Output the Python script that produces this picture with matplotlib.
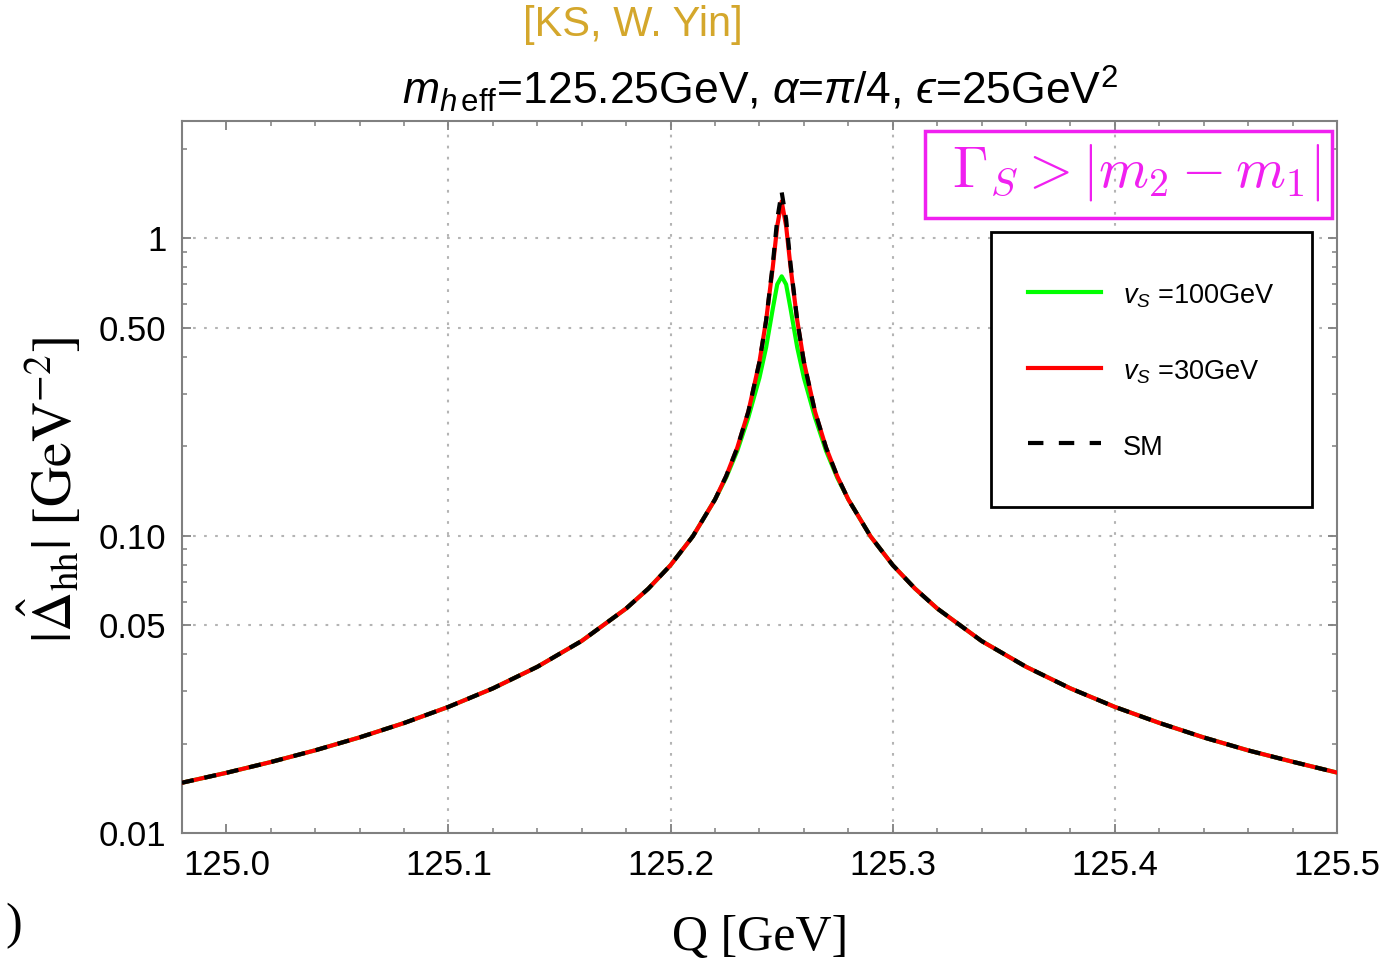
import numpy as np
import matplotlib
matplotlib.use("Agg")
from matplotlib import pyplot as plt
from matplotlib.patches import Rectangle

plt.rcParams['font.family'] = ['Liberation Sans', 'DejaVu Sans']
plt.rcParams['mathtext.fontset'] = 'custom'
plt.rcParams['mathtext.rm'] = 'Liberation Sans'
plt.rcParams['mathtext.it'] = 'Liberation Sans:italic'
plt.rcParams['mathtext.bf'] = 'Liberation Sans:bold'
plt.rcParams['mathtext.fallback'] = 'stixsans'

# Q [GeV] sample points
Q = [124.98, 125.00, 125.02, 125.04, 125.06, 125.08, 125.10, 125.12, 125.14,
     125.16, 125.18, 125.19, 125.20, 125.21, 125.22, 125.225, 125.23, 125.235,
     125.24, 125.243, 125.246, 125.248, 125.25, 125.252, 125.254, 125.257,
     125.26, 125.265, 125.27, 125.275, 125.28, 125.29, 125.30, 125.31, 125.32,
     125.34, 125.36, 125.38, 125.40, 125.42, 125.44, 125.46, 125.48, 125.50]

# |Delta_hh| [GeV^-2]
sm = [0.01479, 0.01597, 0.01736, 0.01901, 0.02101, 0.02348, 0.02661, 0.03070,
      0.03628, 0.04434, 0.05698, 0.06646, 0.07971, 0.0996, 0.1325, 0.1587,
      0.1977, 0.2616, 0.3845, 0.530, 0.818, 1.16, 1.43, 1.16, 0.818, 0.530,
      0.3845, 0.2616, 0.1977, 0.1587, 0.1325, 0.0996, 0.0797, 0.0665, 0.0570,
      0.0443, 0.0363, 0.0307, 0.0266, 0.0235, 0.0210, 0.0190, 0.0174, 0.0160]
vs30 = [0.01479, 0.01597, 0.01736, 0.01901, 0.02101, 0.02348, 0.02661, 0.03070,
        0.03628, 0.04434, 0.05698, 0.06646, 0.07971, 0.0996, 0.1325, 0.1587,
        0.1977, 0.2616, 0.3845, 0.530, 0.80, 1.10, 1.33, 1.10, 0.80, 0.530,
        0.3845, 0.2616, 0.1977, 0.1587, 0.1325, 0.0996, 0.0797, 0.0665, 0.0570,
        0.0443, 0.0363, 0.0307, 0.0266, 0.0235, 0.0210, 0.0190, 0.0174, 0.0160]
vs100 = [0.01479, 0.01597, 0.01736, 0.01901, 0.02101, 0.02348, 0.02661, 0.03070,
         0.03628, 0.04434, 0.05698, 0.06646, 0.07971, 0.0996, 0.1325, 0.157,
         0.193, 0.25, 0.34, 0.43, 0.58, 0.70, 0.745, 0.70, 0.58, 0.43,
         0.34, 0.25, 0.193, 0.157, 0.1325, 0.0996, 0.0797, 0.0665, 0.0570,
         0.0443, 0.0363, 0.0307, 0.0266, 0.0235, 0.0210, 0.0190, 0.0174, 0.0160]

labels = [r"$v_S$ =100GeV", r"$v_S$ =30GeV", "SM"]

xticks = [125.0, 125.1, 125.2, 125.3, 125.4, 125.5]
xticklabels = ["125.0", "125.1", "125.2", "125.3", "125.4", "125.5"]
xminor = [125.02, 125.04, 125.06, 125.08, 125.12, 125.14, 125.16, 125.18,
          125.22, 125.24, 125.26, 125.28, 125.32, 125.34, 125.36, 125.38,
          125.42, 125.44, 125.46, 125.48]
yticks = [0.01, 0.05, 0.1, 0.5, 1]
yticklabels = ["0.01", "0.05", "0.10", "0.50", "1"]
yminor = [0.02, 0.03, 0.04, 0.06, 0.07, 0.08, 0.09, 0.2, 0.3, 0.4,
          0.6, 0.7, 0.8, 0.9, 2]
gridx = [125.1, 125.2, 125.3, 125.4]
gridy = [0.05, 0.1, 0.5, 1]

fig = plt.figure(figsize=(13.89, 9.66), dpi=100)
ax = fig.add_axes([0.131, 1 - 833.3 / 966, 1155 / 1389, 712.6 / 966])
ax.set_yscale('log')
ax.set_xlim(124.98, 125.5)
ax.set_ylim(0.01, 2.485)

# dotted grid
for gx in gridx:
    ax.axvline(gx, color='#b4b4b4', lw=1.5, ls=(0, (1.3, 4)), zorder=0)
for gy in gridy:
    ax.axhline(gy, color='#b4b4b4', lw=1.5, ls=(0, (1.3, 4)), zorder=0)

ax.plot(Q, vs100, color='#00ff00', lw=3, zorder=2)
ax.plot(Q, vs30, color='#ff0000', lw=3, zorder=3)
ax.plot(Q, sm, color='black', lw=3, dashes=(2.9, 2.6), zorder=4)

ax.set_xticks(xticks)
ax.set_xticklabels(xticklabels)
ax.set_xticks(xminor, minor=True)
ax.set_yticks(yticks)
ax.set_yticklabels(yticklabels)
ax.set_yticks(yminor, minor=True)
ax.set_yticklabels([], minor=True)
ax.tick_params(which='both', direction='in', top=True, right=True,
               color='#7f7f7f', labelsize=25, pad=11)
ax.tick_params(which='major', length=6.5, width=1.3)
ax.tick_params(which='minor', length=3.8, width=1.1)
for s in ax.spines.values():
    s.set_color('#808080')
    s.set_linewidth(1.5)

ax.set_title("$m_{h\\,\\mathrm{eff}}$=125.25GeV, $\\alpha$=$\\pi$/4, $\u03f5$=25GeV$^2$",
             fontsize=32, pad=12)
fig.text(0.4557, 0.974, "[KS, W. Yin]", color='#d4a72c', fontsize=30,
         ha='center', va='center')

fig.text(0.036, 0.4928, r"$|\hat{\Delta}_{\mathrm{hh}}|\ [\mathrm{GeV}^{-2}]$",
         math_fontfamily='stix', fontsize=40, rotation=90, ha='center', va='center')
fig.text(0.5472, 0.029, "Q [GeV]", family='Liberation Serif', fontsize=36,
         ha='center', va='center')
fig.text(0.004, 0.042, ")", family='Liberation Serif', fontsize=36,
         ha='left', va='center')

# condition box
ax.add_patch(Rectangle((0.6433, 0.8639), 0.9957 - 0.6433, 0.9855 - 0.8639,
                       transform=ax.transAxes, fill=False, ec='#f020f0', lw=2.5,
                       zorder=5, clip_on=False))
ax.text(0.826, 0.9074, r"$\Gamma_S > |m_2 - m_1|$", math_fontfamily='cm',
        color='#f020f0', fontsize=41, ha='center', va='baseline',
        transform=ax.transAxes, zorder=6)

# legend box
ax.add_patch(Rectangle((0.7004, 0.4583), 0.9781 - 0.7004, 0.8442 - 0.4583,
                       transform=ax.transAxes, fc='white', ec='black', lw=2,
                       zorder=7))
leg_y = [0.7597, 0.6534, 0.5473]
txt_y = [0.7530, 0.6466, 0.5407]
ax.plot([0.7325, 0.7957], [leg_y[0]] * 2, color='#00ff00', lw=3,
        transform=ax.transAxes, zorder=8)
ax.plot([0.7325, 0.7957], [leg_y[1]] * 2, color='#ff0000', lw=3,
        transform=ax.transAxes, zorder=8)
ax.plot([0.7325, 0.7957], [leg_y[2]] * 2, color='black', lw=3, dashes=(3.7, 3.7),
        transform=ax.transAxes, zorder=8)
for lab, ty in zip(labels, txt_y):
    ax.text(0.8147, ty, lab, fontsize=19.5, ha='left', va='center',
            transform=ax.transAxes, zorder=9)

plt.savefig("out.png", dpi=100)
